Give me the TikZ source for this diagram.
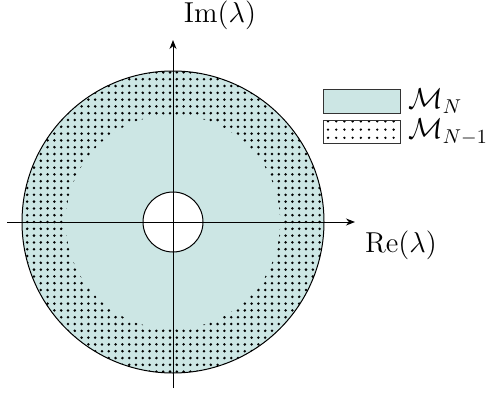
\documentclass[tikz,border=0pt]{standalone}
\usetikzlibrary{patterns.meta,arrows.meta}
\definecolor{lblue}{RGB}{204,230,228}
\begin{document}
\begin{tikzpicture}[x=1pt,y=1pt,
  axis/.style={line width=0.5pt,-{Stealth[length=4.5pt,width=3.5pt]}},
  lbl/.style={font=\Large,inner sep=0pt},
  dotfill/.style={pattern={Dots[distance=3.4pt,radius=0.7pt]}},
  dotlegend/.style={pattern={Dots[distance=4.1pt,radius=0.65pt]}}]
\useasboundingbox (0,0) rectangle (246,196);
\coordinate (c) at (86.5,85);
% regions
\fill[lblue] (c) circle[radius=75.5];
\fill[dotfill] (c) circle[radius=75.5];
\fill[lblue] (c) circle[radius=53.5];
\filldraw[fill=white,draw=black,line width=0.5pt] (c) circle[radius=15];
\draw[line width=0.5pt] (c) circle[radius=75.5];
% axes
\coordinate (xl) at (3.5,85);
\coordinate (xr) at (177.5,85);
\coordinate (yb) at (86.5,2);
\coordinate (yt) at (86.5,176);
\draw[axis] (xl) -- (xr);
\draw[axis] (yb) -- (yt);
\node[lbl] (im) at (110,188.5) {$\mathrm{Im}(\lambda)$};
\node[lbl] (re) at (200.5,73.5) {$\mathrm{Re}(\lambda)$};
% legend
\filldraw[fill=lblue,draw=black!80,line width=0.5pt] (161.5,139.5) rectangle (200,151.5);
\draw[dotlegend,draw=black!80,line width=0.5pt] (161.5,124.5) rectangle (200,136);
\node[lbl,anchor=west] (m1) at (204,145.5) {$\mathcal{M}_N$};
\node[lbl,anchor=west] (m2) at (204,130) {$\mathcal{M}_{N-1}$};
\end{tikzpicture}
\end{document}
